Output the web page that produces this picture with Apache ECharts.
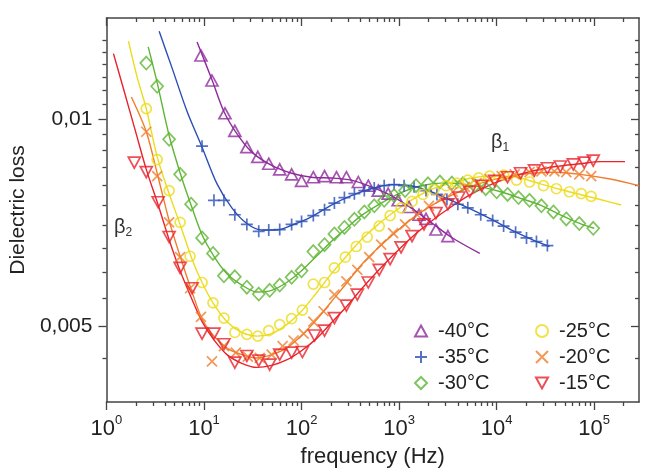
<!DOCTYPE html>
<html>
<head>
<meta charset="utf-8" />
<title>Dielectric loss</title>
<script src="https://cdn.jsdelivr.net/npm/echarts@6/dist/echarts.min.js"></script>
<style>
	html,body{ margin:0; padding:0; background:#fff;}
	#main{ width:646px; height:473px;}
</style>
</head>
<body>
<div id="main"></div>
<script>
// measured points [frequency (Hz), loss]
var m40 = [[9.31,0.01236],[12.07,0.01137],[16.4,0.01019],[20.7,0.00961],[27.5,0.00910],[35.6,0.00881],[46.1,0.00861],[59.7,0.00845],[79.1,0.00831],[100,0.00813],[132,0.00823],[172,0.00826],[228,0.00823],[288,0.00823],[382,0.00810],[483,0.00800],[611,0.00787],[772,0.00779],[977,0.00762],[1265,0.00745],[1600,0.00726],[1887,0.00716],[2387,0.00691],[3162,0.00676]];
var m35 = [[9.55,0.00913],[12.65,0.00762],[16.0,0.00762],[20.7,0.00726],[27.5,0.00703],[36.4,0.00687],[46.1,0.00690],[59.7,0.00691],[79.1,0.00703],[100,0.00710],[132,0.00724],[172,0.00738],[217,0.00755],[275,0.00769],[348,0.00779],[440,0.00787],[556,0.00794],[703,0.00800],[889,0.00803],[1125,0.00800],[1423,0.00797],[1887,0.00787],[2443,0.00777],[3090,0.00764],[4000,0.00752],[5058,0.00743],[6871,0.00726],[9101,0.00712],[11780,0.00699],[15630,0.00685],[20230,0.00672],[25590,0.00664],[33110,0.00655]];
var m30 = [[2.56,0.01205],[3.31,0.01115],[4.39,0.00934],[5.69,0.00831],[7.37,0.00752],[9.55,0.00672],[12.36,0.00638],[16.0,0.00592],[20.7,0.00590],[27.5,0.00570],[36.4,0.00557],[47.1,0.00564],[59.7,0.00574],[79.1,0.00589],[100,0.00602],[132,0.00642],[172,0.00657],[217,0.00681],[275,0.00696],[348,0.00715],[440,0.00733],[556,0.00748],[703,0.00762],[889,0.00774],[1151,0.00787],[1490,0.00800],[1977,0.00805],[2618,0.00810],[3475,0.00807],[4498,0.00805],[5970,0.00800],[7727,0.00792],[10000,0.00784],[12940,0.00777],[16750,0.00769],[21730,0.00762],[28770,0.00748],[38190,0.00733],[51760,0.00716],[70310,0.00705],[97720,0.00694]];
var m25 = [[2.56,0.01035],[3.31,0.00873],[4.39,0.00787],[5.69,0.00708],[7.20,0.00632],[9.55,0.00579],[12.36,0.00541],[16.0,0.00514],[20.7,0.00490],[27.5,0.00487],[35.6,0.00484],[46.1,0.00493],[59.7,0.00503],[79.1,0.00513],[102,0.00528],[132,0.00576],[172,0.00579],[217,0.00608],[281,0.00630],[364,0.00653],[471,0.00674],[625,0.00699],[809,0.00724],[1047,0.00743],[1357,0.00759],[1757,0.00777],[2275,0.00790],[3020,0.00800],[3908,0.00807],[5058,0.00815],[6548,0.00821],[8484,0.00826],[11780,0.00829],[16000,0.00815],[21730,0.00810],[30200,0.00800],[40930,0.00792],[55590,0.00784],[73620,0.00779],[93130,0.00772]];
var m20 = [[2.56,0.00958],[3.31,0.00826],[4.39,0.00708],[5.69,0.00630],[7.20,0.00568],[9.31,0.00516],[12.07,0.00445],[16.0,0.00468],[21.2,0.00458],[28.1,0.00452],[37.3,0.00450],[49.4,0.00455],[64.0,0.00468],[82.8,0.00477],[105,0.00488],[132,0.00508],[168,0.00526],[217,0.00556],[288,0.00581],[373,0.00604],[494,0.00630],[655,0.00657],[869,0.00683],[1151,0.00703],[1527,0.00726],[2023,0.00748],[2685,0.00767],[3556,0.00784],[4714,0.00797],[6252,0.00807],[8484,0.00818],[11250,0.00826],[15280,0.00831],[21730,0.00837],[28770,0.00839],[39080,0.00839],[51760,0.00837],[70310,0.00831],[93130,0.00826]];
var m15 = [[1.93,0.00864],[2.56,0.00837],[3.39,0.00757],[4.39,0.00674],[5.69,0.00608],[7.54,0.00568],[9.55,0.00488],[12.65,0.00488],[16.0,0.00471],[20.7,0.00443],[27.5,0.00453],[36.4,0.00446],[47.1,0.00440],[59.7,0.00455],[79.1,0.00458],[102,0.00459],[136,0.00485],[172,0.00493],[217,0.00514],[288,0.00536],[373,0.00556],[483,0.00579],[625,0.00604],[809,0.00626],[1047,0.00651],[1357,0.00676],[1799,0.00703],[2387,0.00730],[3162,0.00752],[4093,0.00769],[5297,0.00784],[7031,0.00800],[9550,0.00813],[12940,0.00823],[17580,0.00834],[24430,0.00842],[33110,0.00848],[44980,0.00853],[61090,0.00859],[79070,0.00864],[97720,0.00870]];

// fitted curves
var fit40 = [[8.49,0.01293],[12.07,0.01140],[16.0,0.01025],[21.7,0.00952],[30.9,0.00895],[49.4,0.00856],[79.1,0.00834],[126,0.00823],[202,0.00821],[324,0.00815],[518,0.00797],[828,0.00774],[1324,0.00743],[2122,0.00708],[3396,0.00674],[6714,0.00638]];
var fit35 = [[3.47,0.01340],[4.71,0.01185],[6.71,0.01025],[9.55,0.00910],[13.6,0.00805],[19.3,0.00743],[27.5,0.00705],[39.1,0.00690],[55.6,0.00690],[79.1,0.00701],[126,0.00721],[202,0.00750],[324,0.00774],[518,0.00792],[828,0.00803],[1324,0.00800],[2122,0.00784],[3396,0.00762],[5430,0.00740],[8690,0.00716],[13900,0.00691],[22230,0.00670],[34750,0.00653]];
var fit30 = [[2.68,0.01272],[3.31,0.01129],[4.39,0.00946],[5.96,0.00818],[7.54,0.00743],[9.55,0.00679],[12.65,0.00632],[17.2,0.00596],[24.4,0.00574],[34.7,0.00561],[49.4,0.00564],[70.3,0.00579],[100,0.00602],[142,0.00632],[202,0.00664],[288,0.00694],[409,0.00724],[655,0.00755],[1047,0.00782],[1676,0.00800],[2685,0.00807],[4293,0.00805],[6871,0.00797],[10990,0.00784],[17580,0.00767],[28120,0.00750],[44980,0.00726],[71950,0.00705],[100000,0.00694]];
var fit25 = [[1.68,0.01297],[2.07,0.01148],[2.56,0.01035],[3.31,0.00881],[4.39,0.00779],[5.69,0.00703],[7.54,0.00626],[9.55,0.00579],[12.65,0.00538],[17.2,0.00508],[24.4,0.00490],[34.7,0.00484],[49.4,0.00488],[70.3,0.00503],[100,0.00526],[142,0.00559],[202,0.00596],[288,0.00632],[409,0.00668],[582,0.00699],[828,0.00728],[1324,0.00762],[2122,0.00790],[3396,0.00807],[5430,0.00821],[8690,0.00826],[12360,0.00826],[17580,0.00821],[28120,0.00805],[44980,0.00790],[71950,0.00777],[115100,0.00764],[188700,0.00750]];
var fit20 = [[1.80,0.01076],[2.56,0.00958],[3.39,0.00823],[4.39,0.00712],[5.69,0.00632],[7.54,0.00561],[9.55,0.00513],[12.65,0.00484],[17.2,0.00465],[24.4,0.00455],[34.7,0.00450],[49.4,0.00455],[70.3,0.00465],[100,0.00485],[142,0.00511],[202,0.00543],[288,0.00577],[409,0.00614],[582,0.00646],[828,0.00676],[1324,0.00715],[2122,0.00748],[3396,0.00774],[5430,0.00797],[8690,0.00815],[13900,0.00826],[22230,0.00834],[40000,0.00837],[71950,0.00831],[145600,0.00818],[287800,0.00800]];
var fit15 = [[1.18,0.01244],[1.53,0.01093],[1.98,0.00961],[2.56,0.00845],[3.39,0.00750],[4.39,0.00668],[5.69,0.00602],[7.54,0.00547],[9.55,0.00508],[12.65,0.00478],[17.2,0.00455],[24.4,0.00442],[34.7,0.00436],[49.4,0.00439],[70.3,0.00447],[100,0.00461],[142,0.00480],[202,0.00506],[288,0.00534],[409,0.00566],[582,0.00598],[828,0.00630],[1324,0.00672],[2122,0.00710],[3396,0.00745],[5430,0.00777],[8690,0.00803],[13900,0.00823],[22230,0.00839],[40000,0.00853],[71950,0.00861],[115100,0.00867],[207000,0.00867]];

var names = ['-40°C','-35°C','-30°C','-25°C','-20°C','-15°C'];
var colors = ['#8e2a9c','#2b4fb5','#5fb535','#ecdc1c','#f07e2c','#e8232c'];
var xMajor = [1,10,100,1000,10000,100000];
var yMajor = [0.005,0.01];
var yMinor = [0.0045,0.0055,0.006,0.0065,0.007,0.0075,0.008,0.0085,0.009,0.0095,0.0105,0.011,0.0115,0.012,0.0125,0.013];

var xMin = 1, xMax = 287800, yMin = 0.003884, yMax = 0.01401;
var xMinor = [];
for(var k=0;k<6;k++){
	for(var m=2;m<10;m++){
		var v = m*Math.pow(10,k);
		if(v<xMax) xMinor.push(v);
	}
}

var FONT = 'Liberation Sans';
var AX = '#444';

var symbols = [
	{symbol:'path://M5,0L10,9L0,9Z', size:[12,11]},
	{symbol:'path://M5,0L5,10M0,5L10,5', size:12},
	{symbol:'diamond', size:[12,13]},
	{symbol:'circle', size:10},
	{symbol:'path://M0,0L10,10M10,0L0,10', size:10},
	{symbol:'path://M0,0L10,0L5,9Z', size:[12,11]}
];
var markSets = [m40,m35,m30,m25,m20,m15];
var fitSets = [fit40,fit35,fit30,fit25,fit20,fit15];

var series = [];
for(var i=0;i<6;i++){
	series.push({
		name:names[i]+' fit',
		type:'line',
		data:fitSets[i],
		smooth:0.3,
		showSymbol:false,
		silent:true,
		lineStyle:{color:colors[i],width:1.4},
		z:2
	});
}
for(var i=0;i<6;i++){
	series.push({
		name:names[i],
		type:'scatter',
		data:markSets[i],
		symbol:symbols[i].symbol,
		symbolSize:symbols[i].size,
		itemStyle:{color:'rgba(255,255,255,0)',borderColor:colors[i],borderWidth:1.7},
		z:3
	});
}

function logAxis(pos){
	return {
		type:'log', position:pos, min:xMin, max:xMax,
		axisLine:{show:true,lineStyle:{color:AX,width:1.5}},
		splitLine:{show:false}
	};
}

var xAxes = [];
// bottom, labels and long ticks
var xa = logAxis('bottom');
xa.axisTick = {show:true,length:8,inside:false,lineStyle:{color:AX,width:1.3},customValues:xMajor};
xa.axisLabel = {
	show:true, margin:12, customValues:xMajor,
	formatter:function(v){ return '{b|10}{p|'+Math.round(Math.log10(v))+'}'; },
	rich:{
		b:{fontSize:22,fontFamily:FONT,color:'#222',lineHeight:26,verticalAlign:'bottom'},
		p:{fontSize:13,fontFamily:FONT,color:'#222',lineHeight:13,verticalAlign:'top'}
	}
};
xa.name = 'frequency (Hz)';
xa.nameLocation = 'middle';
xa.nameGap = 44;
xa.nameTextStyle = {fontSize:22,fontFamily:FONT,color:'#222'};
xAxes.push(xa);
// bottom, short ticks
var xb = logAxis('bottom');
xb.axisLine = {show:false};
xb.axisTick = {show:true,length:4,inside:false,lineStyle:{color:AX,width:1.3},customValues:xMinor};
xb.axisLabel = {show:false};
xAxes.push(xb);
// top, long
var xc = logAxis('top');
xc.axisTick = {show:true,length:8,inside:true,lineStyle:{color:AX,width:1.3},customValues:xMajor};
xc.axisLabel = {show:false};
xAxes.push(xc);
// top, short
var xd = logAxis('top');
xd.axisLine = {show:false};
xd.axisTick = {show:true,length:4,inside:true,lineStyle:{color:AX,width:1.3},customValues:xMinor};
xd.axisLabel = {show:false};
xAxes.push(xd);

function yLog(pos){
	return {
		type:'log', position:pos, min:yMin, max:yMax,
		axisLine:{show:true,lineStyle:{color:AX,width:1.5}},
		splitLine:{show:false}
	};
}
var yAxes = [];
var ya = yLog('left');
ya.axisTick = {show:true,length:8,inside:false,lineStyle:{color:AX,width:1.3},customValues:yMajor};
ya.axisLabel = {
	show:true, margin:14, customValues:yMajor,
	fontSize:21, fontFamily:FONT, color:'#222',
	formatter:function(v){ return String(v).replace('.',','); }
};
ya.name = 'Dielectric loss';
ya.nameLocation = 'middle';
ya.nameGap = 72;
ya.nameTextStyle = {fontSize:21,fontFamily:FONT,color:'#222'};
yAxes.push(ya);
var yb = yLog('left');
yb.axisLine = {show:false};
yb.axisTick = {show:true,length:4,inside:false,lineStyle:{color:AX,width:1.3},customValues:yMinor};
yb.axisLabel = {show:false};
yAxes.push(yb);
var yc = yLog('right');
yc.axisTick = {show:true,length:8,inside:true,lineStyle:{color:AX,width:1.3},customValues:yMajor};
yc.axisLabel = {show:false};
yAxes.push(yc);
var yd = yLog('right');
yd.axisLine = {show:false};
yd.axisTick = {show:true,length:4,inside:true,lineStyle:{color:AX,width:1.3},customValues:yMinor};
yd.axisLabel = {show:false};
yAxes.push(yd);

var legendBase = {
	orient:'vertical', top:316,
	itemGap:6, itemWidth:12, itemHeight:12,
	textStyle:{fontSize:20,fontFamily:FONT,color:'#222',padding:[0,0,0,6]}
};

var chart = echarts.init(document.getElementById('main'));
chart.setOption({
	backgroundColor:'#fff',
	animation:false,
	grid:{left:104,right:7,top:18,bottom:57,containLabel:false},
	xAxis:xAxes,
	yAxis:yAxes,
	legend:[
		echarts.util.extend({data:names.slice(0,3), left:409}, legendBase),
		echarts.util.extend({data:names.slice(3,6), left:530}, legendBase)
	],
	graphic:[
		{type:'text', left:491, top:132, style:{text:'{b|β}{s|1}', rich:{b:{fontSize:20,fontFamily:FONT,fill:'#333',lineHeight:24},s:{fontSize:12,fontFamily:FONT,fill:'#333',lineHeight:12,verticalAlign:'bottom'}}}},
		{type:'text', left:114, top:217, style:{text:'{b|β}{s|2}', rich:{b:{fontSize:20,fontFamily:FONT,fill:'#333',lineHeight:24},s:{fontSize:12,fontFamily:FONT,fill:'#333',lineHeight:12,verticalAlign:'bottom'}}}}
	],
	series:series
});
</script>
</body>
</html>
